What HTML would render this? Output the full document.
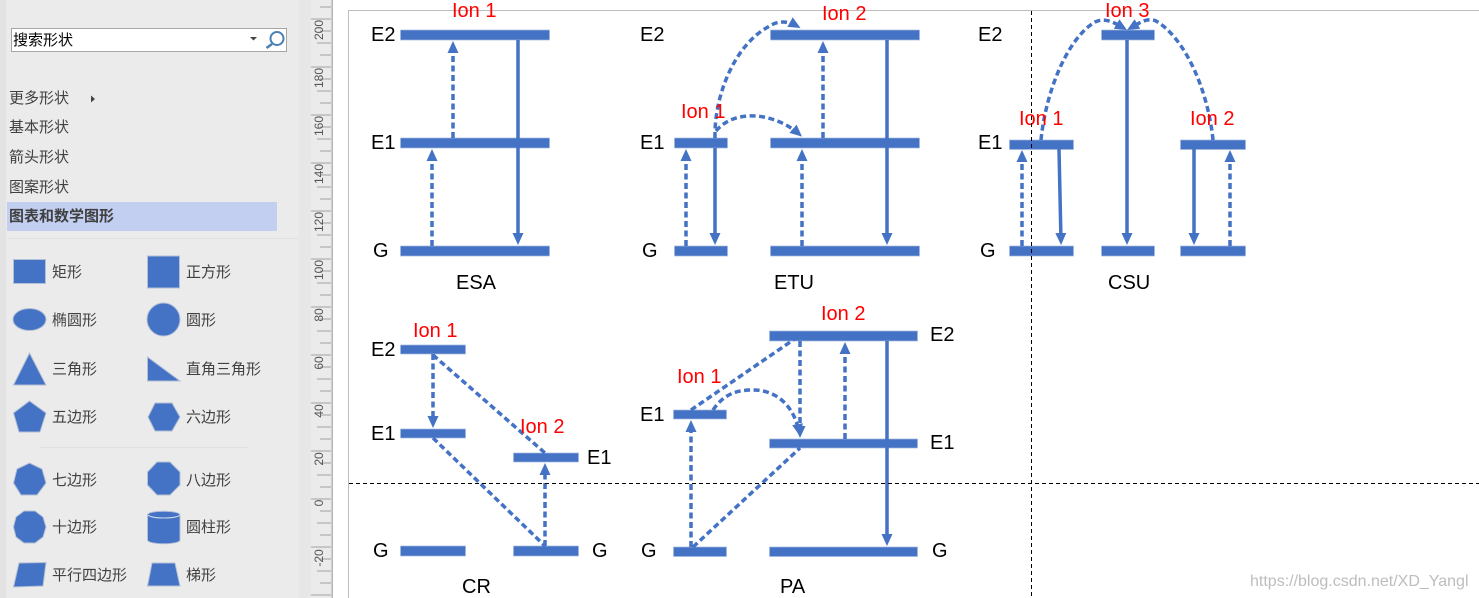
<!DOCTYPE html>
<html>
<head>
<meta charset="utf-8">
<style>
html,body{margin:0;padding:0;width:1479px;height:598px;overflow:hidden;background:#fff}
svg{display:block}
.cn{font-family:"Liberation Sans","Noto Sans CJK SC",sans-serif;font-size:15px;fill:#404040}
.t{font-family:"Liberation Sans",sans-serif;font-size:20px;fill:#000}
.r{font-family:"Liberation Sans",sans-serif;font-size:20px;fill:#f00}
.rl{font-family:"Liberation Sans",sans-serif;font-size:12px;fill:#555}
.s{fill:#4472c4;stroke:#b4c0d6;stroke-width:1}
.b{fill:#4472c4;stroke:#a3b8e0;stroke-width:.7}
.d,.l{fill:none;stroke:#4472c4;stroke-width:3.5}
.d{stroke-dasharray:6 3.5;stroke-linecap:butt}
.a{marker-end:url(#ah)}
</style>
</head>
<body>
<svg width="1479" height="598" viewBox="0 0 1479 598" xmlns="http://www.w3.org/2000/svg">
<defs>
<marker id="ah" markerUnits="userSpaceOnUse" markerWidth="12" markerHeight="12" refX="8" refY="6" orient="auto">
<path d="M0,0.5 L12,6 L0,11.5 Z" fill="#4472c4"/>
</marker>
</defs>

<!-- sidebar -->
<rect x="0" y="0" width="6" height="598" fill="#e3e3e3"/>
<rect x="6" y="0" width="293" height="598" fill="#ebebeb"/>
<rect x="299" y="0" width="12" height="598" fill="#e7e7e7"/>
<rect x="311" y="0" width="21" height="598" fill="#ebebeb"/>
<rect x="331.500" y="0" width="1.500" height="598" fill="#b4b4b4"/>

<!-- search box -->
<rect x="11.500" y="28.500" width="275" height="23" fill="#fff" stroke="#a6a6a6"/>
<text x="13" y="45" class="cn" style="fill:#000">搜索形状</text>
<path d="M250,37 h7 l-3.500,3.500 z" fill="#444"/>
<circle cx="277" cy="38.500" r="6.500" fill="none" stroke="#4a7fb5" stroke-width="2"/>
<line x1="272" y1="44" x2="266.500" y2="48" stroke="#4a7fb5" stroke-width="2.500"/>

<!-- menu -->
<text x="9" y="103" class="cn">更多形状</text>
<path d="M91,95.500 l4,3.500 l-4,3.500 z" fill="#444"/>
<text x="9" y="132" class="cn">基本形状</text>
<text x="9" y="162" class="cn">箭头形状</text>
<text x="9" y="192" class="cn">图案形状</text>
<rect x="7" y="202" width="270" height="29" fill="#c2cff0"/>
<text x="9" y="221" class="cn" style="font-weight:bold">图表和数学图形</text>
<rect x="7" y="238" width="291" height="1" fill="#e0e0e0"/>
<rect x="39" y="447" width="209" height="1" fill="#e0e0e0"/>

<!-- shape gallery -->
<rect class="s" x="13.500" y="259.500" width="32" height="24"/>
<text x="52" y="277" class="cn">矩形</text>
<rect class="s" x="147.500" y="256" width="32" height="32"/>
<text x="186" y="277" class="cn">正方形</text>
<ellipse class="s" cx="29.500" cy="319.500" rx="16.500" ry="11"/>
<text x="52" y="325" class="cn">椭圆形</text>
<circle class="s" cx="163.500" cy="319.500" r="16.500"/>
<text x="186" y="325" class="cn">圆形</text>
<polygon class="s" points="29.500,353 46,385 13.500,385"/>
<text x="52" y="374" class="cn">三角形</text>
<polygon class="s" points="147.500,357 147.500,381 180,381"/>
<text x="186" y="374" class="cn">直角三角形</text>
<polygon class="s" points="29.500,401 46,413 40,432 19,432 13.500,413"/>
<text x="52" y="422" class="cn">五边形</text>
<polygon class="s" points="148,417 155,403 172,403 180,417 172,431 155,431"/>
<text x="186" y="422" class="cn">六边形</text>
<polygon class="s" points="29.500,463 42,469 46,483 37,495 21,495 13.500,483 17,469"/>
<text x="52" y="485" class="cn">七边形</text>
<polygon class="s" points="157,462 170,462 180,472 180,485 170,495 157,495 147.500,485 147.500,472"/>
<text x="186" y="485" class="cn">八边形</text>
<polygon class="s" points="24,511 35,511 43,517 46,527 43,537 35,543 24,543 16,537 13.500,527 16,517"/>
<text x="52" y="532" class="cn">十边形</text>
<path class="s" d="M147.500,515 C147.500,510 180,510 180,515 V540 C180,545 147.500,545 147.500,540 Z"/>
<path d="M148,515 C152,519 176,519 180,515" fill="none" stroke="#ccd6ea" stroke-width="1"/>
<text x="186" y="532" class="cn">圆柱形</text>
<polygon class="s" points="19,563 46,562.500 43,586 13.500,587"/>
<text x="52" y="580" class="cn">平行四边形</text>
<polygon class="s" points="152,563 175,563 180,586 147.500,586"/>
<text x="186" y="580" class="cn">梯形</text>

<!-- ruler -->
<line x1="321" y1="18.500" x2="321" y2="598" stroke="#a0a0a0" stroke-width="20" stroke-dasharray="1 47"/>
<line x1="324" y1="42.500" x2="324" y2="598" stroke="#a0a0a0" stroke-width="14" stroke-dasharray="1 47"/>
<line x1="325.500" y1="6.500" x2="325.500" y2="598" stroke="#a0a0a0" stroke-width="11" stroke-dasharray="1 47"/>
<line x1="325.500" y1="30.500" x2="325.500" y2="598" stroke="#a0a0a0" stroke-width="11" stroke-dasharray="1 47"/>
<g class="rl" text-anchor="middle">
<text transform="translate(323,30) rotate(-90)">200</text>
<text transform="translate(323,78) rotate(-90)">180</text>
<text transform="translate(323,126) rotate(-90)">160</text>
<text transform="translate(323,174) rotate(-90)">140</text>
<text transform="translate(323,222) rotate(-90)">120</text>
<text transform="translate(323,270) rotate(-90)">100</text>
<text transform="translate(323,315) rotate(-90)">80</text>
<text transform="translate(323,363) rotate(-90)">60</text>
<text transform="translate(323,411) rotate(-90)">40</text>
<text transform="translate(323,459) rotate(-90)">20</text>
<text transform="translate(323,503) rotate(-90)">0</text>
<text transform="translate(323,558) rotate(-90)">-20</text>
</g>

<!-- page frame -->
<line x1="348.500" y1="10" x2="348.500" y2="598" stroke="#bdbdbd" stroke-width="1"/>
<line x1="348" y1="10.500" x2="1479" y2="10.500" stroke="#bdbdbd" stroke-width="1"/>

<!-- ESA -->
<rect class="b" x="400.500" y="30" width="149" height="10"/>
<rect class="b" x="400.500" y="138" width="149" height="10"/>
<rect class="b" x="400.500" y="246" width="149" height="10"/>
<path class="d a" d="M453,138 V45"/>
<path class="d a" d="M432,246 V153"/>
<path class="l a" d="M518,40 V241"/>
<text class="t" x="371" y="41">E2</text>
<text class="t" x="371" y="149">E1</text>
<text class="t" x="373" y="257">G</text>
<text class="r" x="452" y="17">Ion 1</text>
<text class="t" x="456" y="289">ESA</text>

<!-- ETU -->
<rect class="b" x="770.500" y="30" width="149" height="10"/>
<rect class="b" x="770.500" y="138" width="149" height="10"/>
<rect class="b" x="770.500" y="246" width="149" height="10"/>
<rect class="b" x="674.500" y="138" width="53" height="10"/>
<rect class="b" x="674.500" y="246" width="53" height="10"/>
<path class="d a" d="M686,246 V153"/>
<path class="l a" d="M715,148 V241"/>
<path class="d a" d="M802,246 V153"/>
<path class="d a" d="M823,138 V45"/>
<path class="l a" d="M887,40 V241"/>
<path class="d a" d="M715,138 C714,95 735,45 768,27 C778,20 788,21 797,26"/>
<path class="d a" d="M716,131 C735,108 775,113 799,134"/>
<text class="t" x="640" y="41">E2</text>
<text class="t" x="640" y="149">E1</text>
<text class="t" x="642" y="257">G</text>
<text class="r" x="681" y="118">Ion 1</text>
<text class="r" x="822" y="20">Ion 2</text>
<text class="t" x="774" y="289">ETU</text>

<!-- CSU -->
<rect class="b" x="1009.500" y="140" width="64" height="9.500"/>
<rect class="b" x="1009.500" y="246" width="64" height="10"/>
<rect class="b" x="1101.500" y="30" width="53" height="10"/>
<rect class="b" x="1101.500" y="246" width="53" height="10"/>
<rect class="b" x="1180.500" y="140" width="65" height="9.500"/>
<rect class="b" x="1180.500" y="246" width="65" height="10"/>
<path class="d a" d="M1022,246 V154"/>
<path class="l a" d="M1059,149 L1061,241"/>
<path class="l a" d="M1127,40 V241"/>
<path class="l a" d="M1194,149 V241"/>
<path class="d a" d="M1230,246 V154"/>
<path class="d a" d="M1041,140 C1046,90 1068,38 1095,22 C1105,17 1115,23 1123.500,28"/>
<path class="d a" d="M1213,140 C1208,90 1185,38 1156,21 C1148,17 1139,23 1130.500,28"/>
<text class="t" x="978" y="41">E2</text>
<text class="t" x="978" y="149">E1</text>
<text class="t" x="980" y="257">G</text>
<text class="r" x="1019" y="125">Ion 1</text>
<text class="r" x="1190" y="125">Ion 2</text>
<text class="r" x="1105" y="17">Ion 3</text>
<text class="t" x="1108" y="289">CSU</text>

<!-- CR -->
<rect class="b" x="400.500" y="345" width="65" height="9"/>
<rect class="b" x="400.500" y="429" width="65" height="9"/>
<rect class="b" x="400.500" y="546" width="65" height="10"/>
<rect class="b" x="513.500" y="453" width="65" height="9"/>
<rect class="b" x="513.500" y="546" width="65" height="10"/>
<path class="d a" d="M433,354 V424"/>
<path class="d" d="M433,355 L545,453"/>
<path class="d" d="M433,438 L545,546"/>
<path class="d a" d="M545,546 V467"/>
<text class="t" x="371" y="356">E2</text>
<text class="t" x="371" y="440">E1</text>
<text class="t" x="373" y="557">G</text>
<text class="t" x="587" y="464">E1</text>
<text class="t" x="592" y="557">G</text>
<text class="r" x="413" y="337">Ion 1</text>
<text class="r" x="520" y="433">Ion 2</text>
<text class="t" x="462" y="593">CR</text>

<!-- PA -->
<rect class="b" x="769.500" y="331" width="148" height="10"/>
<rect class="b" x="769.500" y="439" width="148" height="9"/>
<rect class="b" x="769.500" y="547" width="148" height="9.500"/>
<rect class="b" x="673.500" y="410" width="53" height="9"/>
<rect class="b" x="673.500" y="547" width="53" height="9.500"/>
<path class="d a" d="M691,547 V424"/>
<path class="d" d="M691,410 L796,338"/>
<path class="d" d="M693,547 L800,448"/>
<path class="d a" d="M800,341 V434"/>
<path class="d a" d="M713,410 C725,392 740,390 753,390 C780,390 795,410 799,432"/>
<path class="d a" d="M845,439 V346"/>
<path class="l a" d="M887,341 V542"/>
<text class="t" x="930" y="341">E2</text>
<text class="t" x="930" y="449">E1</text>
<text class="t" x="932" y="557">G</text>
<text class="t" x="640" y="421">E1</text>
<text class="t" x="641" y="557">G</text>
<text class="r" x="677" y="383">Ion 1</text>
<text class="r" x="821" y="320">Ion 2</text>
<text class="t" x="780" y="593">PA</text>

<!-- guides -->
<line x1="349" y1="483.500" x2="1479" y2="483.500" stroke="#000" stroke-width="1" stroke-dasharray="4 3"/>
<line x1="1031.500" y1="11" x2="1031.500" y2="598" stroke="#000" stroke-width="1" stroke-dasharray="4 3"/>

<!-- watermark -->
<text x="1250" y="586" font-family="Liberation Sans, sans-serif" font-size="16" fill="#bdbdbd">https://blog.csdn.net/XD_Yangl</text>
</svg>
</body>
</html>
